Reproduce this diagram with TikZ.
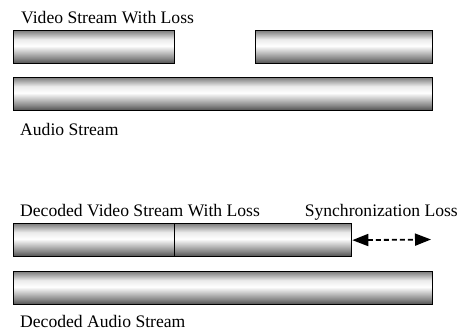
\documentclass[tikz,border=0pt]{standalone}
\usepackage{fontspec}
\setmainfont{Liberation Serif}
\usetikzlibrary{arrows.meta}
\pgfdeclareverticalshading{barshade}{100bp}{color(0bp)=(black!70); color(25bp)=(black!70); color(33bp)=(black!47); color(52bp)=(white); color(62bp)=(black!8); color(75bp)=(black!50); color(100bp)=(black!50)}
\begin{document}
\begin{tikzpicture}[x=1pt,y=-1pt,
  bar/.style={draw=black, line width=1.3pt, shading=barshade, rectangle, inner sep=0pt, minimum height=33pt, anchor=north west},
  lbl/.style={inner sep=0pt, anchor=base west, font=\fontsize{17.6}{20}\selectfont},
  syncarrow/.style={line width=1.8pt, dash pattern=on 5pt off 3pt, {Triangle[length=16pt,width=12pt]}-{Triangle[length=16pt,width=12pt]}}]
\useasboundingbox (0,0) rectangle (461,330);
% top part
\node[lbl] (tv) at (21,23) {Video Stream With Loss};
\node[bar, minimum width=161pt] (v1) at (13,30) {};
\node[bar, minimum width=177pt] (v2) at (255,30) {};
\node[bar, minimum width=419pt] (a1) at (13,77) {};
\node[lbl] (ta) at (20,135) {Audio Stream};
% bottom part
\node[lbl] (tdv) at (20,216) {Decoded Video Stream With Loss};
\node[lbl, anchor=base east] (tsync) at (458,216) {Synchronization Loss};
\node[bar, minimum width=161pt] (dv1) at (13,223) {};
\node[bar, minimum width=177pt] (dv2) at (174,223) {};
\coordinate (syncend) at (431,239.5);
\draw[syncarrow] (dv2.east) -- (syncend);
\node[bar, minimum width=419pt] (da) at (13,271) {};
\node[lbl] (tda) at (20,327) {Decoded Audio Stream};
\end{tikzpicture}
\end{document}
